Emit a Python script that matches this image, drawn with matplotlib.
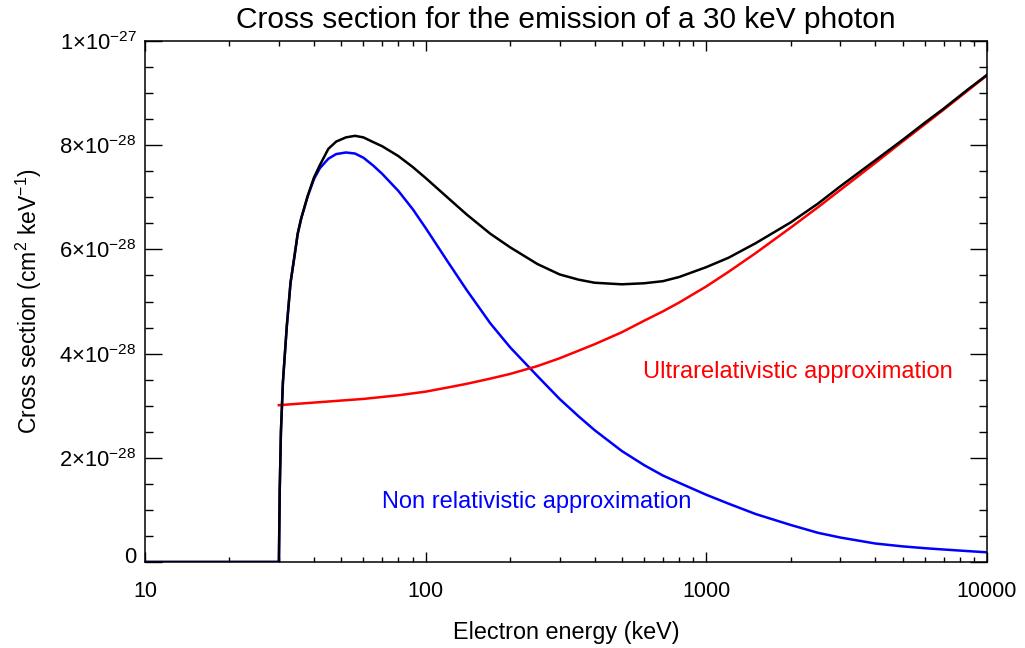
import numpy as np
import matplotlib
matplotlib.use('Agg')
import matplotlib.pyplot as plt
from matplotlib.ticker import FixedLocator, FixedFormatter, NullFormatter
from matplotlib.transforms import ScaledTranslation

plt.rcParams['font.family'] = ['Liberation Sans', 'DejaVu Sans']
plt.rcParams['mathtext.fontset'] = 'custom'
plt.rcParams['mathtext.rm'] = 'Liberation Sans'
plt.rcParams['mathtext.it'] = 'Liberation Sans:italic'
plt.rcParams['mathtext.bf'] = 'Liberation Sans:bold'

# electron energy in keV, cross sections in units of 1e-28 cm^2 keV^-1
energy_total = [10, 30, 30.2, 30.5, 31, 31.5, 32, 33, 34, 35, 36, 38, 40, 42, 45, 48,
                52, 56, 60, 65, 70, 80, 90, 100, 120, 140, 170, 200, 250, 300, 350,
                400, 500, 600, 700, 800, 1000, 1200, 1500, 2000, 2500, 3000, 4000,
                5000, 6000, 7000, 8500, 10000]
xsec_total = [0, 0, 1.38, 2.50, 3.45, 3.99, 4.52, 5.36, 5.83, 6.30, 6.59, 7.03, 7.38,
              7.62, 7.93, 8.07, 8.15, 8.18, 8.15, 8.06, 7.98, 7.79, 7.58, 7.37, 6.99,
              6.67, 6.30, 6.04, 5.72, 5.52, 5.42, 5.36, 5.33, 5.35, 5.39, 5.47, 5.66,
              5.84, 6.12, 6.52, 6.88, 7.21, 7.71, 8.10, 8.43, 8.70, 9.06, 9.35]

energy_nonrel = [10, 30, 30.2, 30.5, 31, 31.5, 32, 33, 34, 35, 36, 38, 40, 42, 45, 48,
                 52, 56, 60, 65, 70, 80, 90, 100, 120, 140, 170, 200, 250, 300, 350,
                 400, 500, 600, 700, 800, 1000, 1200, 1500, 2000, 2500, 3000, 4000,
                 5000, 6000, 7000, 8500, 10000]
xsec_nonrel = [0, 0, 1.38, 2.50, 3.45, 3.99, 4.52, 5.36, 5.83, 6.30, 6.59, 7.02, 7.35,
               7.56, 7.74, 7.83, 7.86, 7.84, 7.76, 7.61, 7.45, 7.12, 6.77, 6.41, 5.76,
               5.22, 4.58, 4.12, 3.57, 3.13, 2.80, 2.53, 2.13, 1.86, 1.66, 1.52, 1.29,
               1.12, 0.92, 0.71, 0.56, 0.47, 0.355, 0.30, 0.265, 0.24, 0.21, 0.186]

energy_ultrarel = [30, 40, 60, 80, 100, 120, 140, 170, 200, 250, 300, 400, 500, 600,
                   700, 800, 1000, 1200, 1500, 2000, 2500, 3000, 4000, 5000, 6000,
                   7000, 8500, 10000]
xsec_ultrarel = [3.01, 3.06, 3.13, 3.20, 3.27, 3.35, 3.42, 3.52, 3.61, 3.76, 3.91,
                 4.18, 4.41, 4.63, 4.81, 4.98, 5.29, 5.57, 5.93, 6.42, 6.81, 7.14,
                 7.66, 8.07, 8.40, 8.68, 9.04, 9.34]

x_ticks = [10, 100, 1000, 10000]
x_ticklabels = ['10', '100', '1000', '10000']
y_ticks = [0, 2e-28, 4e-28, 6e-28, 8e-28, 1e-27]
y_ticklabels = ['0', r'2$\times$10$^{-28}$', r'4$\times$10$^{-28}$', r'6$\times$10$^{-28}$',
                r'8$\times$10$^{-28}$', r'1$\times$10$^{-27}$']

unit = 1e-28

fig = plt.figure(figsize=(10.25, 6.48), dpi=100)
ax = fig.add_axes([145 / 1025, 1 - 562 / 648, 842 / 1025, 521 / 648])

ax.plot(energy_nonrel, np.array(xsec_nonrel) * unit, color='#0000ff', lw=1.8)
ax.plot(energy_ultrarel, np.array(xsec_ultrarel) * unit, color='#ff0000', lw=1.8)
ax.plot(energy_total, np.array(xsec_total) * unit, color='black', lw=1.8)

ax.set_xscale('log')
ax.set_xlim(10, 10000)
ax.set_ylim(0, 1e-27)

ax.xaxis.set_major_locator(FixedLocator(x_ticks))
ax.xaxis.set_major_formatter(FixedFormatter(x_ticklabels))
minor_x = [m * d for d in [10, 100, 1000] for m in range(2, 10)]
ax.xaxis.set_minor_locator(FixedLocator(minor_x))
ax.xaxis.set_minor_formatter(NullFormatter())

ax.yaxis.set_major_locator(FixedLocator(y_ticks))
ax.yaxis.set_major_formatter(FixedFormatter(y_ticklabels))
ax.yaxis.set_minor_locator(FixedLocator(np.arange(0, 1.0001e-27, 0.5e-28)))

for s in ax.spines.values():
    s.set_linewidth(1.1)

# tick length follows the opposite axis size
ax.tick_params(axis='x', which='major', direction='in', length=7.5, width=1.0,
               top=True, bottom=True, labelsize=15.5, pad=14)
ax.tick_params(axis='x', which='minor', direction='in', length=3.7, width=1.0,
               top=True, bottom=True)
ax.tick_params(axis='y', which='major', direction='in', length=12, width=1.0,
               left=True, right=True, labelsize=15.8, pad=6)
ax.tick_params(axis='y', which='minor', direction='in', length=6, width=1.0,
               left=True, right=True)

# lift the zero label a little off the bottom axis
zero_label = ax.yaxis.get_major_ticks()[0].label1
zero_label.set_transform(zero_label.get_transform()
                         + ScaledTranslation(0, 0.07, fig.dpi_scale_trans))

ax.set_xlabel('Electron energy (keV)', fontsize=16.8, labelpad=13)
ax.set_ylabel(r'Cross section (cm$^2$ keV$^{-1}$)', fontsize=16.5, labelpad=11)
ax.set_title('Cross section for the emission of a 30 keV photon', fontsize=21.5, pad=9)

ax.text(594.8, 3.65e-28, 'Ultrarelativistic approximation', color='#ff0000',
        fontsize=17, ha='left', va='center')
ax.text(69.9, 1.15e-28, 'Non relativistic approximation', color='#0000ff',
        fontsize=17, ha='left', va='center')

fig.savefig('out.png', dpi=100)
